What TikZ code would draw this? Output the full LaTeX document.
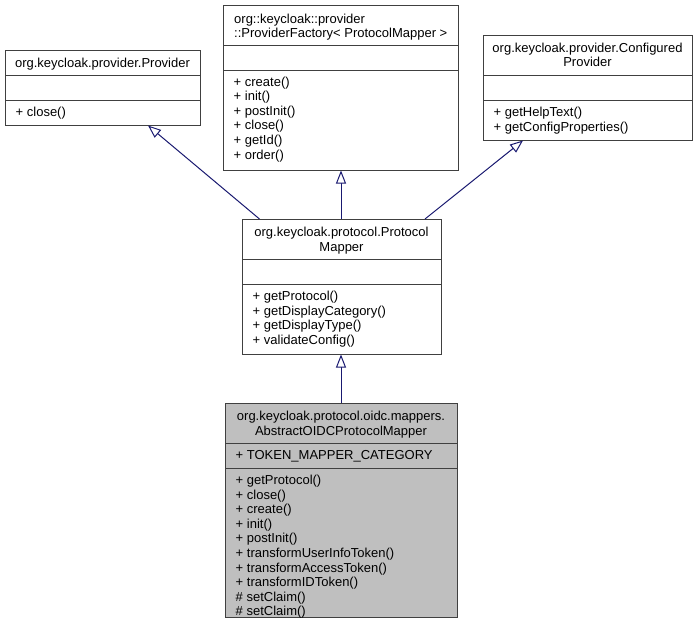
\documentclass[tikz,border=0pt]{standalone}
\usepackage{fontspec}
\setmainfont{Liberation Sans}
\usetikzlibrary{arrows.meta}
\definecolor{edgeblue}{HTML}{191970}
\definecolor{boxline}{HTML}{404040}
\definecolor{boxgray}{HTML}{BFBFBF}
\tikzset{
  umlbox/.style={draw=boxline, line width=1pt, fill=white},
  umlgray/.style={draw=boxline, line width=1pt, fill=boxgray},
  divider/.style={draw=boxline, line width=1pt},
  ttl/.style={inner sep=0pt, anchor=base, font=\fontsize{13}{14.6}\selectfont},
  ttll/.style={inner sep=0pt, anchor=base west, font=\fontsize{13}{14.6}\selectfont},
  mem/.style={inner sep=0pt, anchor=base west, font=\fontsize{13}{14.6}\selectfont},
  inh/.style={draw=edgeblue, line width=1pt, -{Triangle[open, length=13pt, width=10pt, fill=white]}}
}
\begin{document}
\begin{tikzpicture}[x=1pt, y=-1pt]
\useasboundingbox (0,0) rectangle (698,632);

% ---------- Provider ----------
\draw[umlbox] (5,50) rectangle (200,125);
\draw[divider] (5,75) -- (200,75);
\draw[divider] (5,100) -- (200,100);
\node[ttl] (prov-t) at (102.5,67) {org.keycloak.provider.Provider};
\node[mem] (prov-m1) at (15.5,116) {+ close()};
\coordinate (prov-s) at (148,125.5);

% ---------- ProviderFactory ----------
\draw[umlbox] (223,5) rectangle (458,170);
\draw[divider] (223,45) -- (458,45);
\draw[divider] (223,70) -- (458,70);
\node[ttll] (fac-t1) at (234,23) {org::keycloak::provider};
\node[ttll] (fac-t2) at (234,37.6) {::ProviderFactory< ProtocolMapper >};
\foreach \t [count=\i from 0] in {+ create(), + init(), + postInit(), + close(), + getId(), + order()}
  \node[mem] (fac-m\i) at (233.5,{86+14.6*\i}) {\t};
\coordinate (fac-s) at (341,170.5);

% ---------- ConfiguredProvider ----------
\draw[umlbox] (483,35) rectangle (692,140);
\draw[divider] (483,75.5) -- (692,75.5);
\draw[divider] (483,100.5) -- (692,100.5);
\node[ttl] (cp-t1) at (587.5,52) {org.keycloak.provider.Configured};
\node[ttl] (cp-t2) at (587.5,66.6) {Provider};
\node[mem] (cp-m1) at (493.5,116.5) {+ getHelpText()};
\node[mem] (cp-m2) at (493.5,131.1) {+ getConfigProperties()};
\coordinate (cp-s) at (523,140.5);

% ---------- ProtocolMapper ----------
\draw[umlbox] (242,219) rectangle (441,354);
\draw[divider] (242,259) -- (441,259);
\draw[divider] (242,284) -- (441,284);
\node[ttl] (pm-t1) at (341.5,236.5) {org.keycloak.protocol.Protocol};
\node[ttl] (pm-t2) at (341.5,251.1) {Mapper};
\foreach \t [count=\i from 0] in {+ getProtocol(), + getDisplayCategory(), + getDisplayType(), + validateConfig()}
  \node[mem] (pm-m\i) at (252.5,{300.5+14.6*\i}) {\t};
\coordinate (pm-a) at (259.5,219);
\coordinate (pm-b) at (341,219);
\coordinate (pm-c) at (425,219);
\coordinate (pm-s) at (341,354.5);

% ---------- AbstractOIDCProtocolMapper ----------
\draw[umlgray] (225,403) rectangle (457,617);
\draw[divider] (225,443) -- (457,443);
\draw[divider] (225,468) -- (457,468);
\node[ttl] (abs-t1) at (341,420.5) {org.keycloak.protocol.oidc.mappers.};
\node[ttl] (abs-t2) at (341,435.1) {AbstractOIDCProtocolMapper};
\node[mem] (abs-a1) at (235.5,459) {+ TOKEN\_MAPPER\_CATEGORY};
\foreach \t [count=\i from 0] in {+ getProtocol(), + close(), + create(), + init(), + postInit(), + transformUserInfoToken(), + transformAccessToken(), + transformIDToken(), \# setClaim(), \# setClaim()}
  \node[mem] (abs-m\i) at (235.5,{484.5+14.6*\i}) {\t};
\coordinate (abs-n) at (341,403);

% ---------- inheritance ----------
\draw[inh] (pm-a) -- (prov-s);
\draw[inh] (pm-b) -- (fac-s);
\draw[inh] (pm-c) -- (cp-s);
\draw[inh] (abs-n) -- (pm-s);
\end{tikzpicture}
\end{document}
